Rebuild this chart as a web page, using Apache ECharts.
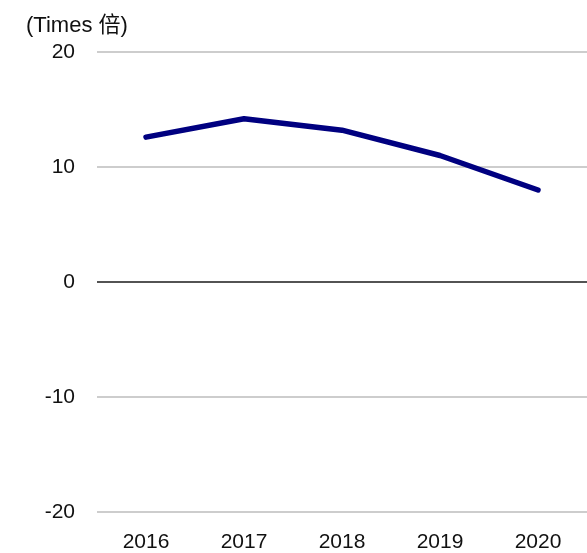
<!DOCTYPE html>
<html>
<head>
<meta charset="utf-8">
<script src="https://cdn.jsdelivr.net/npm/echarts@6/dist/echarts.min.js"></script>
<style>
  html, body { margin: 0; padding: 0; background: #fff; }
  #chart { width: 587px; height: 553px; }
</style>
</head>
<body>
<div id="chart"></div>
<script>
// data
var years = ['2016', '2017', '2018', '2019', '2020'];
var times = [12.6, 14.2, 13.2, 11.0, 8.0];
var unitLabel = '(Times 倍)';

var font = '"Liberation Sans", Arial, "Noto Sans CJK SC", sans-serif';

var myChart = echarts.init(document.getElementById('chart'));
myChart.setOption({
    animation: false,
    title: {
        text: unitLabel,
        left: 21,
        top: 10,
        textStyle: { fontFamily: font, fontSize: 22, fontWeight: 'normal', color: '#111' }
    },
    grid: { left: 97, right: 0, top: 52, bottom: 35 },
    xAxis: {
        type: 'category',
        data: years,
        boundaryGap: true,
        axisLine: { show: false },
        axisTick: { show: false },
        axisLabel: { fontFamily: font, fontSize: 21, color: '#111', margin: 20 }
    },
    yAxis: {
        type: 'value',
        min: -20,
        max: 20,
        interval: 10,
        axisLine: { show: false },
        axisTick: { show: false },
        axisLabel: { fontFamily: font, fontSize: 21, color: '#111', margin: 22 },
        splitLine: {
            lineStyle: {
                // -20, -10, 0, 10, 20 : zero line in black
                color: ['#bdbdbd', '#bdbdbd', '#1a1a1a', '#bdbdbd', '#bdbdbd'],
                width: 1.5
            }
        }
    },
    series: [
        {
            type: 'line',
            data: times,
            showSymbol: false,
            lineStyle: { color: '#000080', width: 5.5, cap: 'round', join: 'round' }
        }
    ]
});
</script>
</body>
</html>
